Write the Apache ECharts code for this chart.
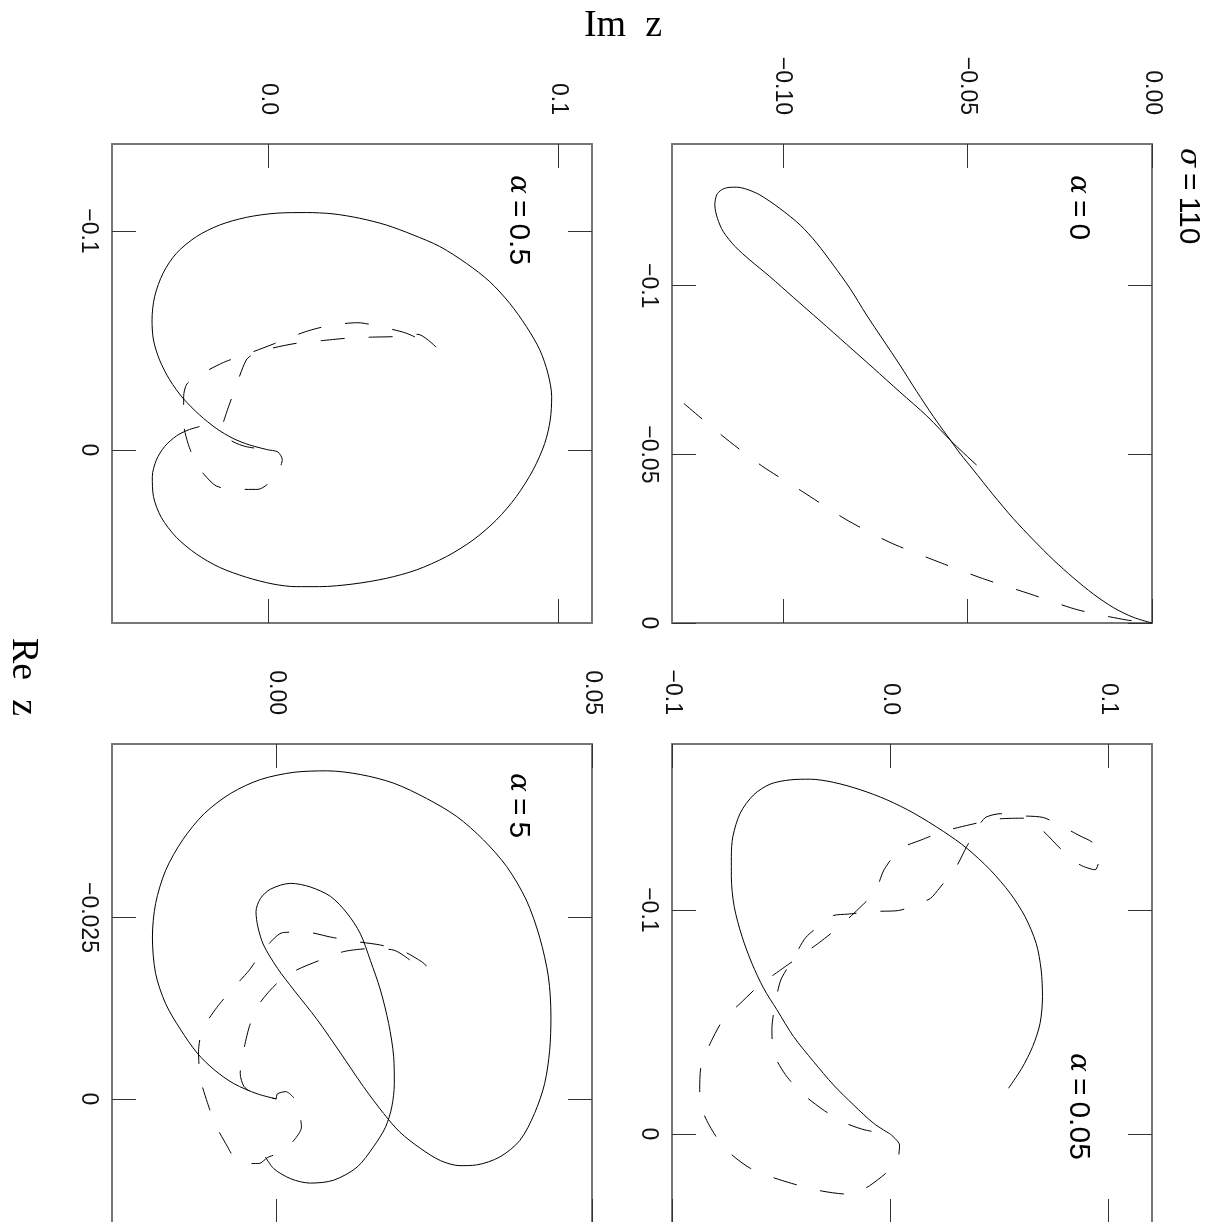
<!DOCTYPE html>
<html>
<head>
<meta charset="utf-8">
<script src="https://cdn.jsdelivr.net/npm/echarts@6/dist/echarts.min.js"></script>
<style>
html, body { margin: 0; padding: 0; background: #fff; }
#chart { width: 1209px; height: 1222px; }
</style>
</head>
<body>
<div id="chart"></div>
<script>
// each point is [Im z, Re z]

// alpha = 0
const solidA = [[-0.0475,-0.0468],[-0.0538,-0.0533],[-0.0610,-0.0614],[-0.0683,-0.0685],[-0.0755,-0.0756],[-0.0827,-0.0826],[-0.0899,-0.0896],[-0.0971,-0.0965],[-0.1035,-0.1027],[-0.1089,-0.1076],[-0.1129,-0.1116],[-0.1161,-0.1160],[-0.1177,-0.1200],[-0.1184,-0.1239],[-0.1179,-0.1269],[-0.1166,-0.1284],[-0.1148,-0.1291],[-0.1125,-0.1292],[-0.1098,-0.1286],[-0.1062,-0.1269],[-0.1008,-0.1229],[-0.0953,-0.1180],[-0.0908,-0.1126],[-0.0863,-0.1061],[-0.0818,-0.0992],[-0.0773,-0.0913],[-0.0728,-0.0839],[-0.0683,-0.0765],[-0.0637,-0.0686],[-0.0592,-0.0612],[-0.0556,-0.0557],[-0.0520,-0.0503],[-0.0484,-0.0454],[-0.0430,-0.0380],[-0.0376,-0.0310],[-0.0321,-0.0246],[-0.0267,-0.0187],[-0.0213,-0.0134],[-0.0159,-0.0086],[-0.0105,-0.0046],[-0.0051,-0.0017],[0,0]];
const dashA = [[-0.1268,-0.0651],[-0.1166,-0.0557],[-0.1057,-0.0466],[-0.0943,-0.0387],[-0.0829,-0.0307],[-0.0710,-0.0239],[-0.0585,-0.0184],[-0.0459,-0.0132],[-0.0330,-0.0086],[-0.0201,-0.0039],[-0.0069,-0.0009],[0,0]];

// alpha = 0.5
const solidB = [[0,0],[-0.0066,-0.0023],[-0.0123,-0.0053],[-0.0181,-0.0099],[-0.0238,-0.0160],[-0.0295,-0.0236],[-0.0341,-0.0320],[-0.0376,-0.0411],[-0.0397,-0.0502],[-0.0402,-0.0594],[-0.0393,-0.0700],[-0.0364,-0.0807],[-0.0318,-0.0898],[-0.0249,-0.0974],[-0.0169,-0.1027],[-0.0077,-0.1062],[0.0026,-0.1081],[0.0130,-0.1084],[0.0222,-0.1078],[0.0314,-0.1058],[0.0406,-0.1027],[0.0498,-0.0982],[0.0590,-0.0929],[0.0682,-0.0852],[0.0762,-0.0769],[0.0831,-0.0670],[0.0889,-0.0563],[0.0935,-0.0457],[0.0963,-0.0350],[0.0976,-0.0244],[0.0971,-0.0137],[0.0952,-0.0030],[0.0912,0.0091],[0.0854,0.0213],[0.0785,0.0320],[0.0705,0.0411],[0.0613,0.0487],[0.0509,0.0548],[0.0406,0.0586],[0.0291,0.0612],[0.0176,0.0624],[0.0095,0.0624],[0.0015,0.0612],[-0.0077,0.0581],[-0.0169,0.0536],[-0.0249,0.0475],[-0.0318,0.0399],[-0.0370,0.0308],[-0.0397,0.0213],[-0.0401,0.0122],[-0.0387,0.0046],[-0.0359,-0.0015],[-0.0318,-0.0064],[-0.0278,-0.0091],[-0.0238,-0.0107]];
const dashB = [[0,0],[0.0032,0.0009],[0.0047,0.0043],[0.0040,0.0079],[0.0024,0.0114],[-0.0002,0.0155],[-0.0037,0.0180],[-0.0123,0.0180],[-0.0181,0.0164],[-0.0221,0.0114],[-0.0252,0.0055],[-0.0278,-0.0030],[-0.0293,-0.0122],[-0.0293,-0.0244],[-0.0282,-0.0301],[-0.0238,-0.0343],[-0.0155,-0.0400],[-0.0075,-0.0438],[0.0015,-0.0483],[0.0055,-0.0505],[0.0139,-0.0545],[0.0220,-0.0571],[0.0308,-0.0581],[0.0394,-0.0560],[0.0475,-0.0533],[0.0578,-0.0469],[0.0515,-0.0528],[0.0440,-0.0518],[0.0351,-0.0515],[0.0268,-0.0510],[0.0182,-0.0499],[0.0095,-0.0487],[0.0009,-0.0464],[-0.0043,-0.0445],[-0.0077,-0.0411],[-0.0117,-0.0274],[-0.0146,-0.0167],[-0.0163,-0.0084],[-0.0123,-0.0038],[-0.0077,-0.0015],[0,0]];

// alpha = 0.05
const solidC = [[0,0],[-0.0076,-0.0048],[-0.0168,-0.0130],[-0.0260,-0.0219],[-0.0351,-0.0323],[-0.0443,-0.0435],[-0.0519,-0.0554],[-0.0580,-0.0650],[-0.0634,-0.0762],[-0.0679,-0.0881],[-0.0715,-0.1015],[-0.0728,-0.1149],[-0.0728,-0.1238],[-0.0721,-0.1327],[-0.0687,-0.1432],[-0.0626,-0.1513],[-0.0550,-0.1561],[-0.0458,-0.1580],[-0.0366,-0.1583],[-0.0260,-0.1569],[-0.0137,-0.1536],[-0.0015,-0.1491],[0.0107,-0.1432],[0.0244,-0.1350],[0.0351,-0.1275],[0.0458,-0.1179],[0.0550,-0.1074],[0.0618,-0.0970],[0.0669,-0.0851],[0.0692,-0.0732],[0.0698,-0.0613],[0.0687,-0.0494],[0.0653,-0.0390],[0.0603,-0.0293],[0.0542,-0.0204]];
const dashC = [[0,0],[0.0043,0.0049],[0.0034,0.0116],[-0.0003,0.0161],[-0.0095,0.0231],[-0.0165,0.0265],[-0.0199,0.0268],[-0.0310,0.0255],[-0.0424,0.0228],[-0.0534,0.0195],[-0.0641,0.0153],[-0.0730,0.0089],[-0.0802,0.0005],[-0.0855,-0.0092],[-0.0873,-0.0199],[-0.0866,-0.0308],[-0.0821,-0.0412],[-0.0766,-0.0509],[-0.0687,-0.0583],[-0.0599,-0.0664],[-0.0507,-0.0729],[-0.0415,-0.0792],[-0.0325,-0.0854],[-0.0232,-0.0926],[-0.0153,-0.0997],[-0.0069,-0.1082],[-0.0028,-0.1179],[0.0046,-0.1272],[0.0145,-0.1313],[0.0244,-0.1350],[0.0366,-0.1380],[0.0489,-0.1405],[0.0611,-0.1409],[0.0695,-0.1357],[0.0786,-0.1268],[0.0870,-0.1201],[0.0939,-0.1179],[0.0959,-0.1238],[0.0931,-0.1298],[0.0870,-0.1330],[0.0802,-0.1365],[0.0702,-0.1412],[0.0588,-0.1420],[0.0504,-0.1429],[0.0440,-0.1414],[0.0412,-0.1384],[0.0351,-0.1283],[0.0302,-0.1191],[0.0226,-0.1097],[0.0186,-0.1052],[0.0145,-0.1034],[0.0038,-0.0997],[-0.0076,-0.0993],[-0.0194,-0.0981],[-0.0260,-0.0975],[-0.0298,-0.0948],[-0.0386,-0.0878],[-0.0443,-0.0784],[-0.0501,-0.0688],[-0.0527,-0.0580],[-0.0542,-0.0472],[-0.0534,-0.0360],[-0.0481,-0.0266],[-0.0405,-0.0182],[-0.0313,-0.0112],[-0.0221,-0.0055],[-0.0115,-0.0018],[0,0]];

// alpha = 5
const solidD = [[0,0],[-0.0030,-0.0007],[-0.0067,-0.0021],[-0.0098,-0.0040],[-0.0125,-0.0063],[-0.0151,-0.0095],[-0.0175,-0.0131],[-0.0191,-0.0173],[-0.0196,-0.0223],[-0.0191,-0.0269],[-0.0175,-0.0315],[-0.0148,-0.0357],[-0.0114,-0.0393],[-0.0072,-0.0421],[-0.0025,-0.0440],[0.0028,-0.0450],[0.0081,-0.0452],[0.0133,-0.0447],[0.0186,-0.0435],[0.0238,-0.0414],[0.0286,-0.0389],[0.0328,-0.0357],[0.0365,-0.0320],[0.0396,-0.0274],[0.0417,-0.0223],[0.0431,-0.0168],[0.0435,-0.0113],[0.0433,-0.0067],[0.0425,-0.0021],[0.0409,0.0020],[0.0386,0.0057],[0.0354,0.0080],[0.0317,0.0091],[0.0291,0.0092],[0.0260,0.0085],[0.0228,0.0068],[0.0196,0.0046],[0.0170,0.0020],[0.0138,-0.0017],[0.0102,-0.0063],[0.0065,-0.0109],[0.0028,-0.0150],[0.0002,-0.0180],[-0.0020,-0.0212],[-0.0029,-0.0237],[-0.0032,-0.0258],[-0.0025,-0.0276],[-0.0009,-0.0289],[0.0023,-0.0297],[0.0054,-0.0292],[0.0086,-0.0279],[0.0112,-0.0256],[0.0133,-0.0228],[0.0149,-0.0191],[0.0165,-0.0150],[0.0178,-0.0104],[0.0186,-0.0058],[0.0187,-0.0021],[0.0183,0.0011],[0.0173,0.0039],[0.0154,0.0066],[0.0128,0.0094],[0.0091,0.0112],[0.0054,0.0116],[0.0023,0.0110],[-0.0004,0.0096],[-0.0017,0.0080]];
const dashD = [[0,0],[0.0002,-0.0007],[0.0015,-0.0010],[0.0030,0.0001],[0.0037,0.0020],[0.0040,0.0039],[0.0023,0.0062],[0.0002,0.0075],[-0.0014,0.0081],[-0.0027,0.0089],[-0.0047,0.0089],[-0.0067,0.0080],[-0.0077,0.0066],[-0.0096,0.0036],[-0.0109,0.0005],[-0.0120,-0.0028],[-0.0123,-0.0065],[-0.0117,-0.0095],[-0.0094,-0.0126],[-0.0070,-0.0151],[-0.0043,-0.0177],[-0.0020,-0.0205],[0.0010,-0.0229],[0.0046,-0.0230],[0.0086,-0.0223],[0.0125,-0.0217],[0.0165,-0.0212],[0.0202,-0.0203],[0.0225,-0.0192],[0.0237,-0.0184],[0.0238,-0.0177],[0.0228,-0.0181],[0.0186,-0.0205],[0.0148,-0.0207],[0.0107,-0.0203],[0.0069,-0.0191],[0.0031,-0.0177],[0.0001,-0.0159],[-0.0026,-0.0132],[-0.0042,-0.0101],[-0.0051,-0.0069],[-0.0057,-0.0035],[-0.0051,-0.0017],[-0.0034,-0.0007],[0,0]];

// ticks and labels
const imTicksA = [-0.10, -0.05, 0.00];
const imLabelsA = ['\u22120.10', '\u22120.05', '0.00'];
const reTicksA = [-0.1, -0.05, 0];
const reLabelsA = ['\u22120.1', '\u22120.05', '0'];
const imTicksB = [0.0, 0.1];
const imLabelsB = ['0.0', '0.1'];
const reTicksB = [-0.1, 0];
const reLabelsB = ['\u22120.1', '0'];
const imTicksC = [-0.1, 0.0, 0.1];
const imLabelsC = ['\u22120.1', '0.0', '0.1'];
const reTicksC = [-0.1, 0];
const reLabelsC = ['\u22120.1', '0'];
const imTicksD = [0.00, 0.05];
const imLabelsD = ['0.00', '0.05'];
const reTicksD = [-0.025, 0];
const reLabelsD = ['\u22120.025', '0'];

const alphaNames = ['0', '0.5', '0.05', '5'];

const panels = [
  { left: 672, top: 144, tagY: 31, im: [-0.13, 0], re: [-0.142, 0], imT: imTicksA, imL: imLabelsA, reT: reTicksA, reL: reLabelsA, solid: solidA, dash: dashA, alpha: alphaNames[0] },
  { left: 112, top: 144, tagY: 31, im: [-0.054, 0.1115], re: [-0.1397, 0.079], imT: imTicksB, imL: imLabelsB, reT: reTicksB, reL: reLabelsB, solid: solidB, dash: dashB, alpha: alphaNames[1] },
  { left: 672, top: 744, tagY: 309, im: [-0.1, 0.12], re: [-0.174, 0.0397], imT: imTicksC, imL: imLabelsC, reT: reTicksC, reL: reLabelsC, solid: solidC, dash: dashC, alpha: alphaNames[2] },
  { left: 112, top: 744, tagY: 29, im: [-0.026, 0.05], re: [-0.0489, 0.0171], imT: imTicksD, imL: imLabelsD, reT: reTicksD, reL: reLabelsD, solid: solidD, dash: dashD, alpha: alphaNames[3] }
]

const W = 480, H = 479
const boxLine = { onZero: false, lineStyle: { color: '#777', width: 2 } }
const tickStyle = { color: '#333', width: 1 }
const labelFont = { fontFamily: 'Liberation Sans', fontSize: 23, color: '#111' }

const pick = (ticks, labels) => (v) => {
  let best = 0
  ticks.forEach((t, i) => { if (Math.abs(t - v) < Math.abs(ticks[best] - v)) best = i })
  return labels[best]
}

const grid = [], xAxis = [], yAxis = [], series = [], texts = []
panels.forEach((p, i) => {
  grid.push({ left: p.left, top: p.top, width: W, height: H, containLabel: false, outerBoundsMode: 'none' })
  // top axis: echarts flips the label rotation on a top axis, so 90 here reads top-to-bottom
  xAxis.push({
    gridIndex: i, type: 'value', position: 'top', min: p.im[0], max: p.im[1],
    axisLine: boxLine, splitLine: { show: false },
    axisTick: { inside: true, length: 24, customValues: p.imT, lineStyle: tickStyle },
    axisLabel: Object.assign({ customValues: p.imT, rotate: 90, margin: 29, align: 'right', verticalAlign: 'middle', formatter: pick(p.imT, p.imL) }, labelFont)
  })
  xAxis.push({
    gridIndex: i, type: 'value', position: 'bottom', min: p.im[0], max: p.im[1],
    axisLine: boxLine, splitLine: { show: false },
    axisTick: { inside: true, length: 24, customValues: p.imT, lineStyle: tickStyle },
    axisLabel: { show: false }
  })
  yAxis.push({
    gridIndex: i, type: 'value', position: 'left', inverse: true, min: p.re[0], max: p.re[1],
    axisLine: boxLine, splitLine: { show: false },
    axisTick: { inside: true, length: 24, customValues: p.reT, lineStyle: tickStyle },
    axisLabel: Object.assign({ customValues: p.reT, rotate: -90, margin: 12, align: 'center', verticalAlign: 'top', formatter: pick(p.reT, p.reL) }, labelFont)
  })
  yAxis.push({
    gridIndex: i, type: 'value', position: 'right', inverse: true, min: p.re[0], max: p.re[1],
    axisLine: boxLine, splitLine: { show: false },
    axisTick: { inside: true, length: 24, customValues: p.reT, lineStyle: tickStyle },
    axisLabel: { show: false }
  })
  series.push({
    type: 'line', xAxisIndex: 2 * i, yAxisIndex: 2 * i, data: p.solid,
    symbol: 'none', smooth: 0.3, lineStyle: { color: '#000', width: 1 }
  })
  series.push({
    type: 'line', xAxisIndex: 2 * i, yAxisIndex: 2 * i, data: p.dash,
    symbol: 'none', smooth: 0.25, lineStyle: { color: '#000', width: 1, type: [24, 24] }
  })
  texts.push({
    type: 'text', x: p.left + 406, y: p.top + p.tagY, rotation: -Math.PI / 2,
    style: {
      text: '{a|\u03b1}{b|\u2009=\u2009' + p.alpha + '}',
      align: 'left', verticalAlign: 'middle',
      rich: {
        a: { fontFamily: 'DejaVu Serif', fontStyle: 'italic', fontSize: 28, fill: '#000' },
        b: { fontFamily: 'Liberation Sans', fontSize: 30, fill: '#000' }
      }
    }
  })
})

texts.push({ type: 'text', x: 623, y: 26, style: { text: 'Im\u00a0\u00a0z', font: '38px "Liberation Serif"', fill: '#000', align: 'center', verticalAlign: 'middle' } })
texts.push({ type: 'text', x: 23, y: 677, rotation: -Math.PI / 2, style: { text: 'Re\u00a0\u00a0z', font: '38px "Liberation Serif"', fill: '#000', align: 'center', verticalAlign: 'middle' } })
texts.push({
  type: 'text', x: 1188, y: 148, rotation: -Math.PI / 2,
  style: {
    text: '{a|\u03c3}{b|\u2009=\u2009110}', align: 'left', verticalAlign: 'middle',
    rich: {
      a: { fontFamily: 'DejaVu Serif', fontStyle: 'italic', fontSize: 28, fill: '#000' },
      b: { fontFamily: 'Liberation Sans', fontSize: 30, fill: '#000' }
    }
  }
})

const chart = echarts.init(document.getElementById('chart'))
chart.setOption({
  animation: false,
  backgroundColor: '#fff',
  grid, xAxis, yAxis, series,
  graphic: { elements: texts }
})
</script>
</body>
</html>
